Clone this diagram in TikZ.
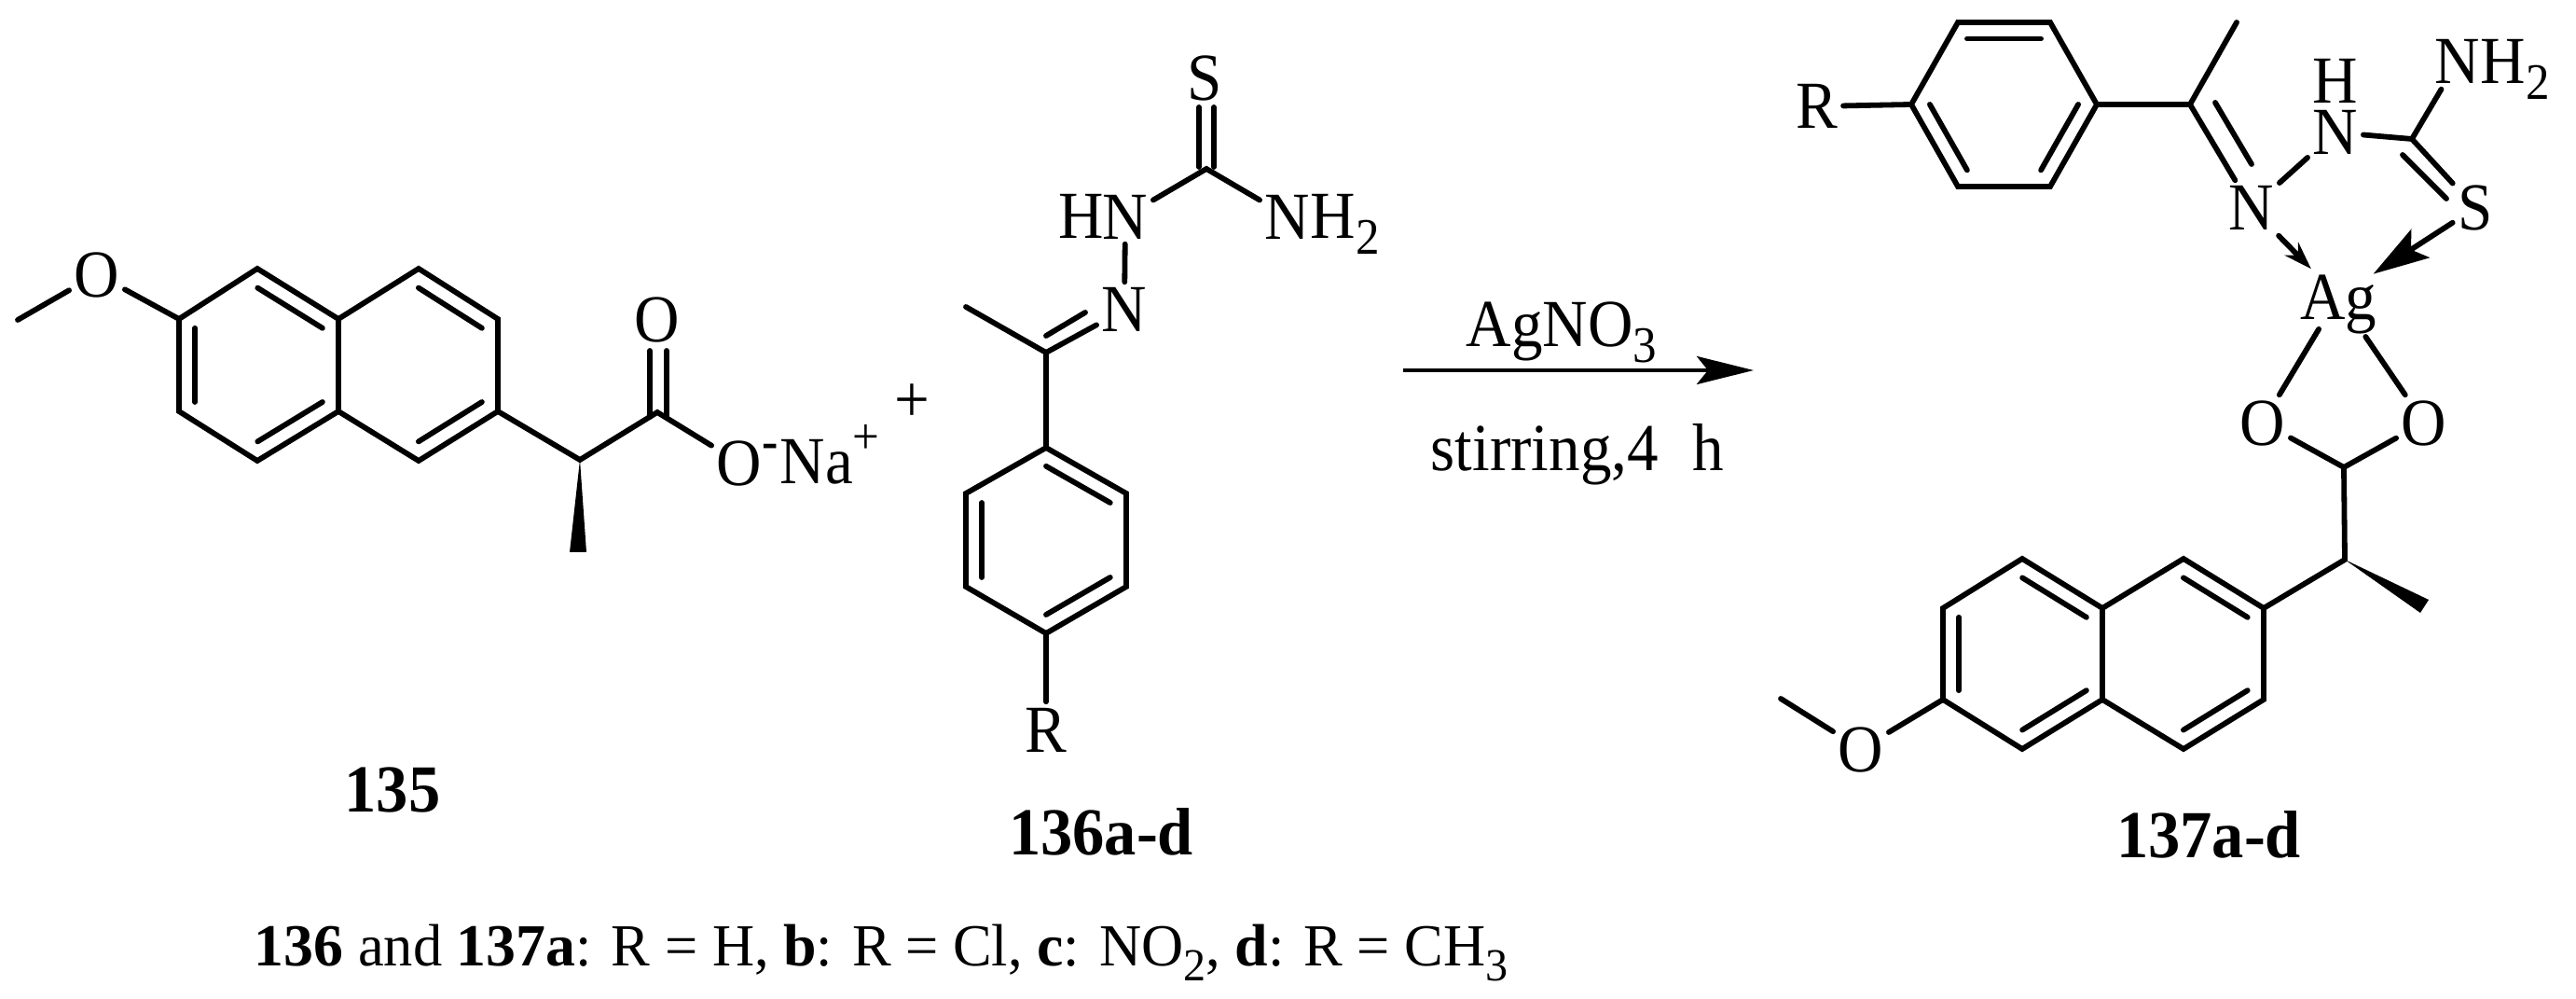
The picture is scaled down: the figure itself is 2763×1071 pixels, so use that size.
\documentclass[tikz,border=0pt]{standalone}
\usepackage{fontspec}
\setmainfont[FakeStretch=0.93,BoldFeatures={FakeStretch=0.95}]{Liberation Serif}
\usetikzlibrary{arrows.meta,calc}
\newcommand{\chemsub}[1]{\raisebox{-0.17cm}{\fontsize{15.6}{16}\selectfont #1}}
\newcommand{\chemsup}[1]{\raisebox{0.32cm}{\fontsize{15.6}{16}\selectfont #1}}
\newcommand{\ringbond}[3]{\draw[bond] ($(#1)!0.2!(#3)$) -- ($(#2)!0.2!(#3)$);}
\tikzset{
	bond/.style={line width=0.058cm,line cap=round,line join=miter},
	atom/.style={font=\fontsize{20.5}{24}\selectfont,inner sep=0.05cm,text height=0.48cm,text depth=0pt},
	txt/.style={font=\fontsize{20.5}{24}\selectfont,inner sep=0pt,anchor=base},
	cpd/.style={font=\fontsize{20.5}{24}\selectfont\bfseries,inner sep=0pt,anchor=base},
}
\begin{document}
\begin{tikzpicture}[x=0.01cm,y=-0.01cm,>={Stealth[length=0.3cm,width=0.2cm]}]
	\useasboundingbox (0,0) rectangle (2763,1071);
	% 135
	\coordinate (a1) at (192,342);
	\coordinate (a2) at (276,288);
	\coordinate (a3) at (363,342);
	\coordinate (a4) at (449,288);
	\coordinate (a5) at (534,342);
	\coordinate (a6) at (534,441);
	\coordinate (a7) at (449,494);
	\coordinate (a8) at (363,441);
	\coordinate (a9) at (276,494);
	\coordinate (a10) at (192,441);
	\coordinate (ac1) at (277.5,391);
	\coordinate (ac2) at (448.5,391);
	\coordinate (a11) at (622,493);
	\coordinate (a12) at (705,442);
	\coordinate (aw1) at (611,592);
	\coordinate (aw2) at (629,592);
	\coordinate (ad1) at (697,376);
	\coordinate (ad2) at (697,447);
	\coordinate (ad3) at (715,376);
	\coordinate (ad4) at (715,447);
	\coordinate (ame) at (19,343);
	\node[atom] (aom) at (104,294) {O};
	\node[atom] (ao1) at (705,343) {O};
	\node[atom] (ao2) at (793,496) {O};
	\node[txt] (amin) at (826,492) {\fontsize{15.6}{16}\selectfont\bfseries -};
	\node[txt,anchor=base west] (ana) at (836,519) {Na\chemsup{+}};
	\node[txt] (aplus) at (978,453) {+};
	\draw[bond] (a1)--(a2)--(a3)--(a4)--(a5)--(a6)--(a7)--(a8)--(a9)--(a10)--cycle;
	\draw[bond] (a3)--(a8);
	\ringbond{a2}{a3}{ac1}
	\ringbond{a1}{a10}{ac1}
	\ringbond{a8}{a9}{ac1}
	\ringbond{a4}{a5}{ac2}
	\ringbond{a6}{a7}{ac2}
	\draw[bond] (ame)--(aom)--(a1);
	\draw[bond] (a6)--(a11)--(a12)--(ao2);
	\draw[bond] (ad1)--(ad2);
	\draw[bond] (ad3)--(ad4);
	\fill (a11)--(aw2)--(aw1)--cycle;
	\node[cpd] (lab135) at (421,871) {135};
	% 136
	\coordinate (b1) at (1122,480);
	\coordinate (b2) at (1208,529);
	\coordinate (b3) at (1208,629);
	\coordinate (b4) at (1122,679);
	\coordinate (b5) at (1036,629);
	\coordinate (b6) at (1036,529);
	\coordinate (bc) at (1122,579);
	\coordinate (b7) at (1122,378);
	\coordinate (bme) at (1036,329);
	\coordinate (b8) at (1294,181);
	\coordinate (bd1) at (1122,360);
	\coordinate (bd2) at (1164,335);
	\coordinate (bd3) at (1286,115);
	\coordinate (bd4) at (1286,179);
	\coordinate (bd5) at (1302,115);
	\coordinate (bd6) at (1302,179);
	\node[atom] (bs) at (1292,84) {S};
	\node[atom] (bn1) at (1207,232) {N};
	\node[txt,anchor=base east] (bh) at (1185,256) {H};
	\node[atom] (bn2) at (1381,232) {N};
	\node[txt,anchor=base west] (bh2) at (1405,256) {H\chemsub{2}};
	\node[atom] (bn3) at (1206,332) {N};
	\node[atom] (br) at (1122,782) {R};
	\draw[bond] (b1)--(b2)--(b3)--(b4)--(b5)--(b6)--cycle;
	\ringbond{b1}{b2}{bc}
	\ringbond{b3}{b4}{bc}
	\ringbond{b5}{b6}{bc}
	\draw[bond] (br)--(b4);
	\draw[bond] (b1)--(b7)--(bme);
	\draw[bond] (b7)--(bn3)--(bn1)--(b8)--(bn2);
	\draw[bond] (bd1)--(bd2);
	\draw[bond] (bd3)--(bd4);
	\draw[bond] (bd5)--(bd6);
	\node[cpd] (lab136) at (1181,917) {136a-d};
	% arrow
	\coordinate (r1) at (1505,397);
	\coordinate (r2) at (1881,397);
	\draw[->,line width=0.045cm,>={Stealth[length=0.61cm,width=0.3cm,inset=0.12cm]}] (r1)--(r2);
	\node[txt] (rtop) at (1675,372) {AgNO\chemsub{3}};
	\node[txt] (rbot) at (1692,505) {stirring,4\hspace{0.2cm} h};
	% 137 upper part
	\coordinate (c1) at (2100,24);
	\coordinate (c2) at (2199,24);
	\coordinate (c3) at (2249,112);
	\coordinate (c4) at (2199,200);
	\coordinate (c5) at (2100,200);
	\coordinate (c6) at (2050,112);
	\coordinate (cc) at (2149.5,112);
	\coordinate (c7) at (2349,112);
	\coordinate (cme) at (2399,24);
	\coordinate (c8) at (2587,149);
	\coordinate (cd1) at (2376,110);
	\coordinate (cd2) at (2415,176);
	\coordinate (cd3) at (2577,166);
	\coordinate (cd4) at (2624,213);
	\node[atom] (cr) at (1949,114) {R};
	\node[atom] (cn1) at (2415,223) {N};
	\node[atom] (cn2) at (2505,142) {N};
	\node[txt] (ch) at (2505,111) {H};
	\node[atom] (cn3) at (2636,66) {N};
	\node[txt,anchor=base west] (ch2) at (2660,90) {H\chemsub{2}};
	\node[atom] (cs) at (2655,223) {S};
	\node[atom] (cag) at (2508,318) {Ag};
	\node[atom] (co1) at (2427,453) {O};
	\node[atom] (co2) at (2600,453) {O};
	\draw[bond] (c1)--(c2)--(c3)--(c4)--(c5)--(c6)--cycle;
	\ringbond{c1}{c2}{cc}
	\ringbond{c3}{c4}{cc}
	\ringbond{c5}{c6}{cc}
	\draw[bond] (cr)--(c6);
	\draw[bond] (c3)--(c7)--(cme);
	\draw[bond] (c7)--(cn1);
	\draw[bond] (cd1)--(cd2);
	\draw[bond] (cn1)--(cn2);
	\draw[bond] (cn2)--(c8)--(cn3);
	\draw[bond] (c8)--(cs);
	\draw[bond] (cd3)--(cd4);
	\draw[bond,->] (cn1)--(cag);
	\draw[bond,->,>={Stealth[length=0.6cm,width=0.36cm,inset=0.12cm]},shorten >=-0.1cm] (cs)--(cag);
	\draw[bond,shorten <=0.06cm] (cag)--(co1);
	\draw[bond,shorten <=0.16cm] (cag)--(co2);
	% 137 lower part
	\coordinate (c9) at (2514,501);
	\coordinate (c10) at (2515,600);
	\coordinate (cw1) at (2605,643);
	\coordinate (cw2) at (2596,657);
	\coordinate (e1) at (2428,652);
	\coordinate (e2) at (2342,599);
	\coordinate (e3) at (2255,652);
	\coordinate (e4) at (2169,599);
	\coordinate (e5) at (2084,652);
	\coordinate (e6) at (2084,750);
	\coordinate (e7) at (2169,803);
	\coordinate (e8) at (2255,750);
	\coordinate (e9) at (2342,803);
	\coordinate (e10) at (2428,750);
	\coordinate (ec1) at (2341.5,701);
	\coordinate (ec2) at (2169.5,701);
	\coordinate (eme) at (1910,749);
	\node[atom] (eo) at (1996,803) {O};
	\draw[bond] (co1)--(c9)--(co2);
	\draw[bond] (c9)--(c10)--(e1);
	\fill (c10)--(cw1)--(cw2)--cycle;
	\draw[bond] (e1)--(e2)--(e3)--(e4)--(e5)--(e6)--(e7)--(e8)--(e9)--(e10)--cycle;
	\draw[bond] (e3)--(e8);
	\ringbond{e1}{e2}{ec1}
	\ringbond{e9}{e10}{ec1}
	\ringbond{e3}{e4}{ec2}
	\ringbond{e5}{e6}{ec2}
	\ringbond{e7}{e8}{ec2}
	\draw[bond] (eme)--(eo)--(e6);
	\node[cpd] (lab137) at (2369,920) {137a-d};
	% caption
	\node[txt,anchor=base west,font=\fontsize{18.2}{22}\selectfont] (capt) at (272,1036) {\scalebox{1.05}[1]{\textbf{136} and \textbf{137a}: R = H, \textbf{b}: R = Cl, \textbf{c}: NO{\raisebox{-0.15cm}{\fontsize{14}{14}\selectfont 2}}, \textbf{d}: R = CH{\raisebox{-0.15cm}{\fontsize{14}{14}\selectfont 3}}}};
\end{tikzpicture}
\end{document}
